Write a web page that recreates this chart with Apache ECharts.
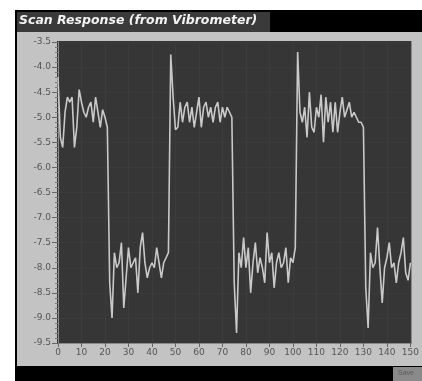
<!DOCTYPE html>
<html>
<head>
<meta charset="utf-8">
<script src="https://cdn.jsdelivr.net/npm/echarts@6/dist/echarts.min.js"></script>
<style>
html,body{margin:0;padding:0;background:#ffffff;}
#chart{width:422px;height:381px;}
</style>
</head>
<body>
<div id="chart"></div>
<script>
// Sample spacing along x (one sample per x unit)
var X_MIN = 0, X_MAX = 150, X_STEP = 1;
var xTicks = [0,10,20,30,40,50,60,70,80,90,100,110,120,130,140,150];
var yTicks = [-3.5,-4.0,-4.5,-5.0,-5.5,-6.0,-6.5,-7.0,-7.5,-8.0,-8.5,-9.0,-9.5];

// Response values, segment by segment
var highSeg1 = [-4.2,-5.4,-5.6,-4.9,-4.6,-4.7,-4.6,-5.6,-5.2,-4.45,-4.7,-4.9,-5.0,-4.8,-4.7,-5.1,-4.6,-4.9,-5.2,-4.85,-5.0,-5.2];
var lowSeg1 = [-8.3,-9.0,-7.7,-8.0,-7.9,-7.5,-8.8,-8.2,-7.6,-8.0,-7.9,-7.8,-8.5,-7.6,-7.3,-7.9,-8.2,-8.0,-7.9,-8.0,-7.6,-7.9,-8.2,-7.9,-7.8,-7.7];
var spike1 = [-3.75];
var highSeg2 = [-4.6,-5.25,-5.2,-4.7,-5.1,-4.8,-4.7,-5.1,-4.8,-5.2,-4.9,-4.6,-5.2,-4.8,-4.7,-5.0,-4.8,-5.1,-4.8,-4.7,-5.1,-4.8,-5.0,-4.8,-4.9,-5.0];
var lowSeg2 = [-8.3,-9.3,-7.7,-8.0,-7.4,-8.0,-7.6,-8.5,-7.9,-7.5,-8.1,-7.8,-8.0,-8.3,-7.3,-7.9,-7.7,-8.4,-7.9,-7.7,-8.0,-7.9,-7.6,-8.3,-7.8,-7.9,-7.6];
var spike2 = [-3.7];
var highSeg3 = [-4.9,-5.1,-4.8,-5.4,-4.5,-5.2,-5.3,-4.8,-5.0,-4.55,-5.5,-4.6,-5.1,-4.7,-5.3,-4.7,-5.3,-4.9,-4.6,-5.0,-4.85,-4.7,-5.0,-4.9,-5.0,-5.1,-5.1,-5.2];
var lowSeg3 = [-8.4,-9.2,-7.7,-8.0,-7.9,-7.2,-8.0,-8.7,-8.0,-7.8,-7.5,-8.0,-7.9,-8.3,-7.9,-7.7,-7.4,-8.1,-8.25,-7.9];

var titleText = 'Scan Response (from Vibrometer)';
var buttonText = 'Save';

var values = [].concat(highSeg1, lowSeg1, spike1, highSeg2, lowSeg2, spike2, highSeg3, lowSeg3);
var seriesData = values.map(function(v, i){ return [X_MIN + i * X_STEP, v]; });

var chart = echarts.init(document.getElementById('chart'), null, {renderer:'canvas'});
var lblFont = {color:'#555555', fontSize:9, fontFamily:'DejaVu Sans'};

chart.setOption({
  animation:false,
  backgroundColor:'#ffffff',
  graphic:[
    {type:'rect', z:-10, shape:{x:15,y:10,width:407,height:371}, style:{fill:'#000000'}},
    {type:'rect', z:-9, shape:{x:17,y:12,width:253,height:20}, style:{fill:'#3a3a3a'}},
    {type:'rect', z:-9, shape:{x:17,y:32,width:405,height:334}, style:{fill:'#c3c3c3'}},
    {type:'text', z:5, x:19, y:14, style:{text:titleText, fill:'#f2f2f2', font:'italic bold 12.5px "DejaVu Sans"'}},
    {type:'rect', z:5, shape:{x:393,y:367,width:29,height:14}, style:{fill:'#8a8a8a'}},
    {type:'text', z:6, x:398, y:370, style:{text:buttonText, fill:'#5a5a5a', font:'7px "Liberation Sans"'}}
  ],
  grid:{left:58, right:10, top:42, bottom:38, show:true, backgroundColor:'#363636', borderColor:'#363636', borderWidth:2},
  xAxis:{
    type:'value', min:X_MIN, max:X_MAX, interval:10,
    axisLine:{show:true, lineStyle:{color:'#8a8a8a', width:1}},
    axisTick:{show:true, length:4, lineStyle:{color:'#666666'}},
    axisLabel:Object.assign({margin:5, formatter:function(v){ return xTicks.indexOf(v) >= 0 ? String(v) : ''; }}, lblFont),
    splitLine:{show:true, lineStyle:{color:'#3c3c3c', width:1}}
  },
  yAxis:{
    type:'value', min:-9.5, max:-3.5, interval:0.5,
    axisLine:{show:true, lineStyle:{color:'#8a8a8a', width:1}},
    axisTick:{show:true, length:6, lineStyle:{color:'#666666'}},
    minorTick:{show:true, splitNumber:5, length:3, lineStyle:{color:'#777777'}},
    axisLabel:Object.assign({margin:7, formatter:function(v){ return v.toFixed(1); }}, lblFont),
    splitLine:{show:true, lineStyle:{color:'#3a3a3a', width:1}}
  },
  series:[{
    type:'line',
    data:seriesData,
    showSymbol:false,
    lineStyle:{color:'#c9c9c9', width:1.6},
    z:3
  }]
});
</script>
</body>
</html>
